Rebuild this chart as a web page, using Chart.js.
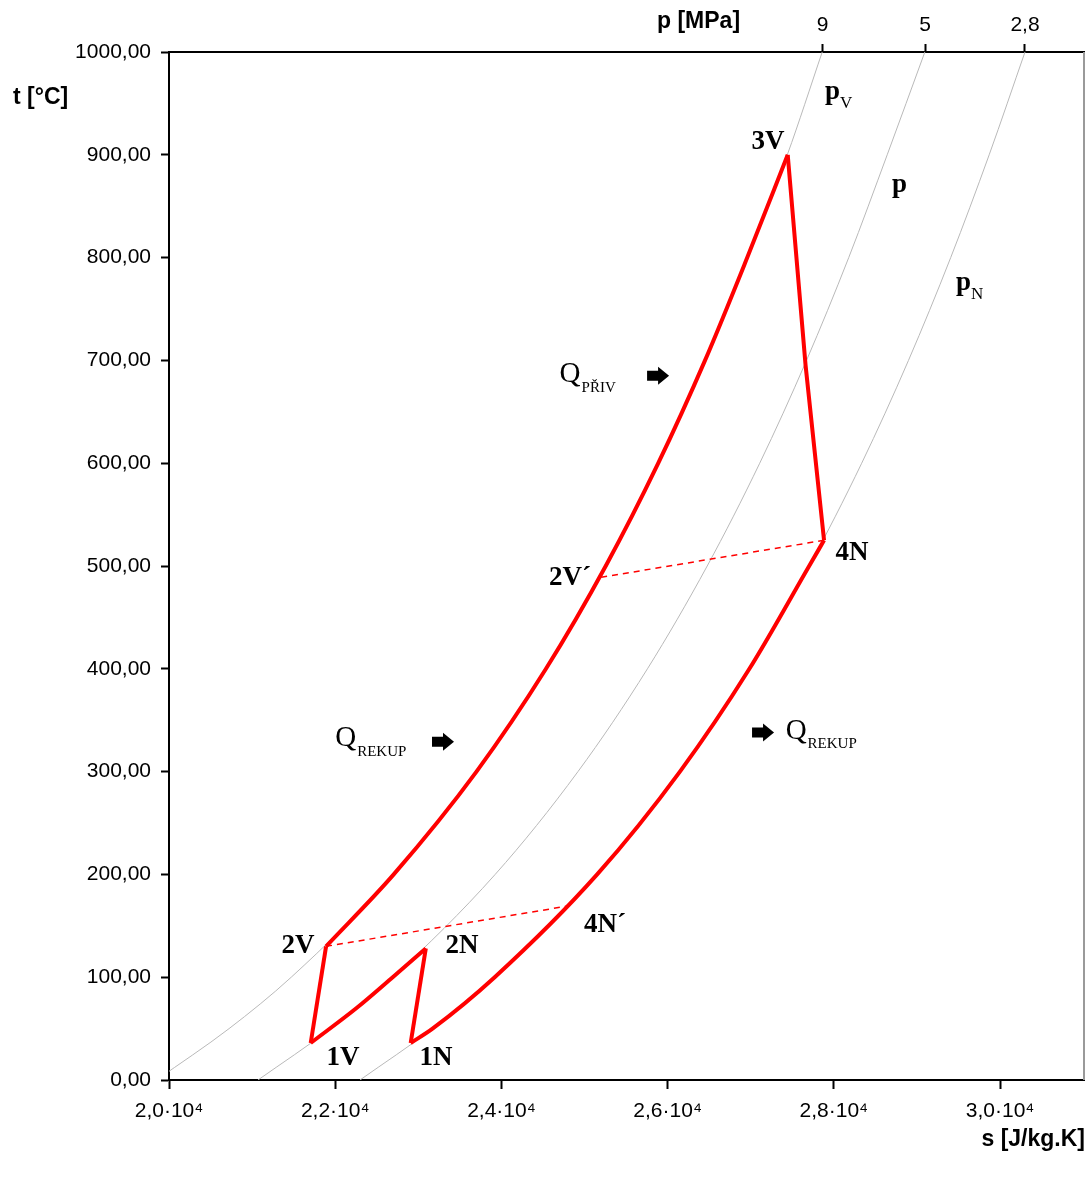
<!DOCTYPE html>
<html>
<head>
<meta charset="utf-8">
<script src="https://cdn.jsdelivr.net/npm/chart.js@4.4.0/dist/chart.umd.min.js"></script>
<style>
  html, body { margin: 0; padding: 0; background: #fff; }
  #wrap { width: 1088px; height: 1182px; }
</style>
</head>
<body>
<div id="wrap"><canvas id="chart"></canvas></div>
<script>
// teploty izobar (°C) a odpovidajici entropie s (J/kg.K)
const isoT  = [0, 50, 100, 200, 300, 400, 500, 600, 700, 800, 900, 1000];
const isoPV = [19850, 20723, 21471, 22704, 23700, 24536, 25255, 25887, 26450, 26958, 27440, 27860];
const isoP  = [21071, 21944, 22692, 23925, 24921, 25757, 26476, 27108, 27671, 28179, 28642, 29095];
const isoPN = [22298, 23171, 23919, 25152, 26148, 26984, 27703, 28335, 28898, 29406, 29869, 30300];

// cyklus - ohrev na vysokem tlaku 2V -> 3V
const heatT = [130, 200, 300, 400, 500, 600, 700, 800, 900];
const heatS = [21890, 22704, 23700, 24536, 25255, 25887, 26450, 26958, 27445];
// expanze 3V -> 4N
const expT = [900, 695, 525];
const expS = [27445, 27660, 27882];
// chlazeni na nizkem tlaku 4N -> 1N
const coolT = [36, 50, 100, 200, 300, 400, 500, 525];
const coolS = [22908, 23171, 23919, 25152, 26148, 26984, 27703, 27882];
// mezichlazeni 2N -> 1V
const midT = [36, 70, 100, 128];
const midS = [21705, 22257, 22692, 23090];
// komprese
const comp1T = [36, 130];  const comp1S = [21705, 21890];
const comp2T = [36, 128];  const comp2S = [22908, 23090];
// rekuperace (carkovane)
const rek1T = [130, 169];  const rek1S = [21890, 24780];
const rek2T = [489, 525];  const rek2S = [25200, 27882];

// osy
const sTicks = [20000, 22000, 24000, 26000, 28000, 30000];
const sTickLabels = ['2,0·10⁴', '2,2·10⁴', '2,4·10⁴', '2,6·10⁴', '2,8·10⁴', '3,0·10⁴'];
const pTicks = [27866, 29097, 30300];
const pTickLabels = ['9', '5', '2,8'];

// popisky bodu (v souradnicich grafu)
const pointLabels = [
  { text: '3V',  s: 27208, t: 912 },
  { text: '2V´', s: 24826, t: 488 },
  { text: '4N',  s: 28219, t: 513 },
  { text: '2V',  s: 21552, t: 130 },
  { text: '2N',  s: 23526, t: 130 },
  { text: '1V',  s: 22094, t: 21 },
  { text: '1N',  s: 23213, t: 21 },
  { text: '4N´', s: 25247, t: 151 }
];
const pressLabels = [
  { main: 'p', sub: 'V', s: 27979, t: 961 },
  { main: 'p', sub: '',  s: 28785, t: 871 },
  { main: 'p', sub: 'N', s: 29555, t: 775 }
];
const heatLabels = [
  { main: 'Q', sub: 'PŘIV',  s: 24700, t: 686 },
  { main: 'Q', sub: 'REKUP', s: 22000, t: 332 },
  { main: 'Q', sub: 'REKUP', s: 27420, t: 339 }
];
const arrows = [
  { s: 25885, t: 685 },
  { s: 23297, t: 329 },
  { s: 27148, t: 338 }
];

function pts(xs, ys) {
  return xs.map((x, i) => ({ x: x, y: ys[i] }));
}

const gray = '#b9b9b9';
const red = '#ff0000';

function isobar(xs) {
  return {
    data: pts(xs, isoT), borderColor: gray, borderWidth: 1,
    pointRadius: 0, showLine: true, cubicInterpolationMode: 'monotone', order: 10
  };
}
function redLine(xs, ys, curved) {
  return {
    data: pts(xs, ys), borderColor: red, borderWidth: 4,
    pointRadius: 0, showLine: true, order: 1,
    cubicInterpolationMode: curved ? 'monotone' : 'default', tension: 0,
    borderJoinStyle: 'miter'
  };
}
function dashLine(xs, ys) {
  return {
    data: pts(xs, ys), borderColor: red, borderWidth: 1.5, borderDash: [6, 5],
    pointRadius: 0, showLine: true, order: 2
  };
}

const serif = '"Liberation Serif", "Times New Roman", serif';
const sans = '"Liberation Sans", Arial, sans-serif';

const textPlugin = {
  id: 'texty',
  afterDatasetsDraw(chart) {
    const ctx = chart.ctx;
    const xs = chart.scales.x, ys = chart.scales.y;
    const area = chart.chartArea;
    ctx.save();
    // pravy okraj
    ctx.strokeStyle = '#9a9a9a';
    ctx.lineWidth = 2;
    ctx.beginPath();
    ctx.moveTo(area.right, area.top);
    ctx.lineTo(area.right, area.bottom);
    ctx.stroke();

    ctx.fillStyle = '#000';
    ctx.textBaseline = 'middle';
    ctx.textAlign = 'center';
    ctx.font = 'bold 27px ' + serif;
    pointLabels.forEach(l => {
      ctx.fillText(l.text, xs.getPixelForValue(l.s), ys.getPixelForValue(l.t));
    });

    pressLabels.forEach(l => {
      const x = xs.getPixelForValue(l.s), y = ys.getPixelForValue(l.t);
      ctx.textAlign = 'left';
      ctx.font = 'bold 27px ' + serif;
      ctx.fillText(l.main, x - 7, y);
      const w = ctx.measureText(l.main).width;
      ctx.font = '17px ' + serif;
      if (l.sub) ctx.fillText(l.sub, x - 7 + w, y + 11);
    });

    heatLabels.forEach(l => {
      const x = xs.getPixelForValue(l.s), y = ys.getPixelForValue(l.t);
      ctx.textAlign = 'left';
      ctx.font = '29px ' + serif;
      ctx.fillText(l.main, x, y);
      const w = ctx.measureText(l.main).width;
      ctx.font = '15px ' + serif;
      ctx.fillText(l.sub, x + w + 1, y + 13);
    });

    arrows.forEach(a => {
      const x = xs.getPixelForValue(a.s), y = ys.getPixelForValue(a.t);
      ctx.beginPath();
      ctx.moveTo(x - 11, y - 5);
      ctx.lineTo(x, y - 5);
      ctx.lineTo(x, y - 9);
      ctx.lineTo(x + 11, y);
      ctx.lineTo(x, y + 9);
      ctx.lineTo(x, y + 5);
      ctx.lineTo(x - 11, y + 5);
      ctx.closePath();
      ctx.fill();
    });

    // nazvy os
    ctx.font = 'bold 23px ' + sans;
    ctx.textAlign = 'left';
    ctx.fillText('t [°C]', 13, 98);
    ctx.fillText('p [MPa]', 657, 22);
    ctx.textAlign = 'right';
    ctx.fillText('s [J/kg.K]', 1085, 1140);
    ctx.restore();
  }
};

const tickFont = { family: sans, size: 21 };

new Chart(document.getElementById('chart'), {
  type: 'scatter',
  data: {
    datasets: [
      isobar(isoPV), isobar(isoP), isobar(isoPN),
      redLine(heatS, heatT, true),
      redLine(expS, expT, false),
      redLine(coolS, coolT, true),
      redLine(midS, midT, true),
      redLine(comp1S, comp1T, false),
      redLine(comp2S, comp2T, false),
      dashLine(rek1S, rek1T),
      dashLine(rek2S, rek2T)
    ]
  },
  options: {
    responsive: true,
    maintainAspectRatio: false,
    animation: false,
    layout: { padding: { left: 0, right: 4, top: 0, bottom: 0 } },
    plugins: { legend: { display: false }, tooltip: { enabled: false } },
    scales: {
      x: {
        type: 'linear', position: 'bottom', min: 20000, max: 31010,
        afterBuildTicks: s => { s.ticks = sTicks.map(v => ({ value: v })); },
        afterFit: s => { s.height = 102; },
        ticks: {
          callback: v => sTickLabels[sTicks.indexOf(v)],
          color: '#000', font: tickFont, padding: 10, maxRotation: 0, autoSkip: false
        },
        grid: { drawOnChartArea: false, tickLength: 9, tickWidth: 2, tickColor: '#000' },
        border: { color: '#000', width: 2 }
      },
      x2: {
        type: 'linear', position: 'top', min: 20000, max: 31010,
        afterBuildTicks: s => { s.ticks = pTicks.map(v => ({ value: v })); },
        afterFit: s => { s.height = 52; },
        ticks: {
          callback: v => pTickLabels[pTicks.indexOf(v)],
          color: '#000', font: tickFont, padding: 6, maxRotation: 0, autoSkip: false
        },
        grid: { drawOnChartArea: false, tickLength: 8, tickWidth: 2, tickColor: '#000' },
        border: { color: '#000', width: 2 }
      },
      y: {
        type: 'linear', min: 0, max: 1000,
        afterFit: s => { s.width = 169; },
        ticks: {
          stepSize: 100,
          callback: v => v.toFixed(2).replace('.', ','),
          color: '#000', font: tickFont, padding: 10
        },
        grid: { drawOnChartArea: false, tickLength: 8, tickWidth: 2, tickColor: '#000' },
        border: { color: '#000', width: 2 }
      }
    }
  },
  plugins: [textPlugin]
});
</script>
</body>
</html>
